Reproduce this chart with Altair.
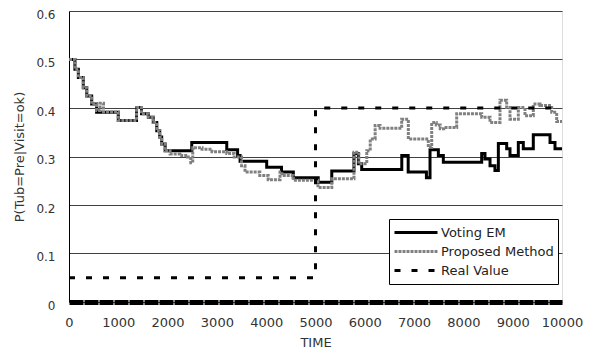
import altair as alt
import pandas as pd

# Voting EM (black step line)
vem_t = [0, 120, 190, 290, 360, 460, 560, 1000, 1370, 1470, 1610, 1710, 1780, 1840, 1880, 1950,
         2490, 3200, 3420, 3470, 4010, 4310, 4550, 5055, 5330, 5780, 5870, 5937, 6750, 6880, 7250,
         7323, 7492, 7593, 8371, 8438, 8540, 8640, 8709, 8878, 8945, 9114, 9215, 9418, 9757, 9858, 10000]
vem_v = [0.500, 0.480, 0.463, 0.442, 0.425, 0.408, 0.391, 0.374, 0.401, 0.388, 0.381, 0.370, 0.353, 0.340, 0.326, 0.312,
         0.329, 0.314, 0.302, 0.290, 0.278, 0.268, 0.256, 0.247, 0.270, 0.306, 0.285, 0.273, 0.302, 0.268, 0.256,
         0.314, 0.302, 0.288, 0.306, 0.295, 0.281, 0.271, 0.327, 0.316, 0.302, 0.329, 0.316, 0.345, 0.329, 0.316, 0.316]

# Proposed Method (gray step line)
pm_t = [0, 120, 190, 290, 360, 460, 560, 630, 700, 1000, 1370, 1470, 1610, 1710, 1780, 1840, 1880, 1950,
        2050, 2250, 2400, 2470, 2510, 2700, 2900, 3200, 3350, 3500, 3570, 3870, 4040, 4280, 4320, 4550,
        5050, 5330, 5780, 5880, 6040, 6110, 6210, 6310, 6748, 6883, 7288, 7357, 7450, 7530, 7600, 7864,
        8371, 8540, 8742, 8878, 8945, 9114, 9249, 9418, 9554, 9791, 9892, 10000]
pm_v = [0.500, 0.480, 0.463, 0.442, 0.425, 0.408, 0.395, 0.410, 0.392, 0.374, 0.401, 0.388, 0.381, 0.370, 0.353, 0.340, 0.326, 0.312,
        0.305, 0.302, 0.299, 0.287, 0.318, 0.315, 0.310, 0.306, 0.299, 0.281, 0.268, 0.261, 0.252, 0.268, 0.261, 0.251,
        0.236, 0.254, 0.309, 0.285, 0.312, 0.336, 0.364, 0.358, 0.377, 0.336, 0.319, 0.370, 0.365, 0.357, 0.360, 0.388,
        0.381, 0.370, 0.416, 0.401, 0.377, 0.401, 0.384, 0.408, 0.405, 0.391, 0.372, 0.372]

# Real Value (dashed)
rv_t = [0, 5000, 10000]
rv_v = [0.05, 0.40, 0.40]

series_names = ["Voting EM", "Proposed Method", "Real Value"]
x_ticks = [0, 1000, 2000, 3000, 4000, 5000, 6000, 7000, 8000, 9000, 10000]
y_ticks = [0, 0.1, 0.2, 0.3, 0.4, 0.5, 0.6]

rows = []
for t, v in zip(vem_t, vem_v):
    rows.append({"t": t, "v": v, "series": series_names[0]})
for t, v in zip(pm_t, pm_v):
    rows.append({"t": t, "v": v, "series": series_names[1]})
for t, v in zip(rv_t, rv_v):
    rows.append({"t": t, "v": v, "series": series_names[2]})
df = pd.DataFrame(rows)

FONT = "DejaVu Sans"

x_enc = alt.X("t:Q", scale=alt.Scale(domain=[0, 10000], nice=False),
              axis=alt.Axis(values=x_ticks, format="d", title="TIME", grid=False, ticks=False,
                            labelOverlap=False, labelFlush=False,
                            labelFontSize=13, labelColor="#333", labelPadding=14,
                            titleFontSize=13, titleFontWeight="normal", titleColor="#333", titlePadding=7,
                            domainColor="black", domainWidth=5, domainDash=[14, 1]))
y_enc = alt.Y("v:Q", scale=alt.Scale(domain=[0, 0.6], nice=False),
              axis=alt.Axis(values=y_ticks, format="~g", title="P(Tub=Pre|Visit=ok)", grid=True,
                            gridColor="#404040", gridWidth=1, ticks=False,
                            labelFontSize=12, labelColor="#333", labelPadding=14, labelOffset=3,
                            titleFontSize=13, titleFontWeight="normal", titleColor="#333", titlePadding=9,
                            domainColor="black", domainWidth=1))

legend_opts = dict(title=None, orient="none", legendX=320, legendY=208,
                   symbolType="stroke", symbolSize=1849, symbolStrokeWidth=3,
                   labelFontSize=13, labelColor="#222", labelOffset=2, labelFont=FONT,
                   clipHeight=19, rowPadding=0, padding=4,
                   strokeColor="black", fillColor="white", cornerRadius=0)

color_enc = alt.Color("series:N",
                      scale=alt.Scale(domain=series_names, range=["#000000", "#808080", "#000000"]),
                      legend=alt.Legend(**legend_opts))
dash_enc = alt.StrokeDash("series:N",
                          scale=alt.Scale(domain=series_names, range=[[1, 0], [3, 1], [6, 11]]),
                          legend=alt.Legend(**legend_opts))

def layer(name):
    return alt.Chart(df).transform_filter(alt.datum.series == name).mark_line(
        interpolate="step-after", strokeWidth=3, strokeCap="butt"
    ).encode(x=x_enc, y=y_enc, color=color_enc, strokeDash=dash_enc)

chart = alt.layer(layer("Voting EM"), layer("Proposed Method"), layer("Real Value")).properties(
    width=493, height=291,
    autosize=alt.AutoSizeParams(type="none"),
    padding={"left": 61, "top": 3, "right": 30, "bottom": 52},
).configure_view(stroke=None).configure(font=FONT, background="white")

chart.save("out.html", embed_options={"renderer": "svg", "actions": False})
